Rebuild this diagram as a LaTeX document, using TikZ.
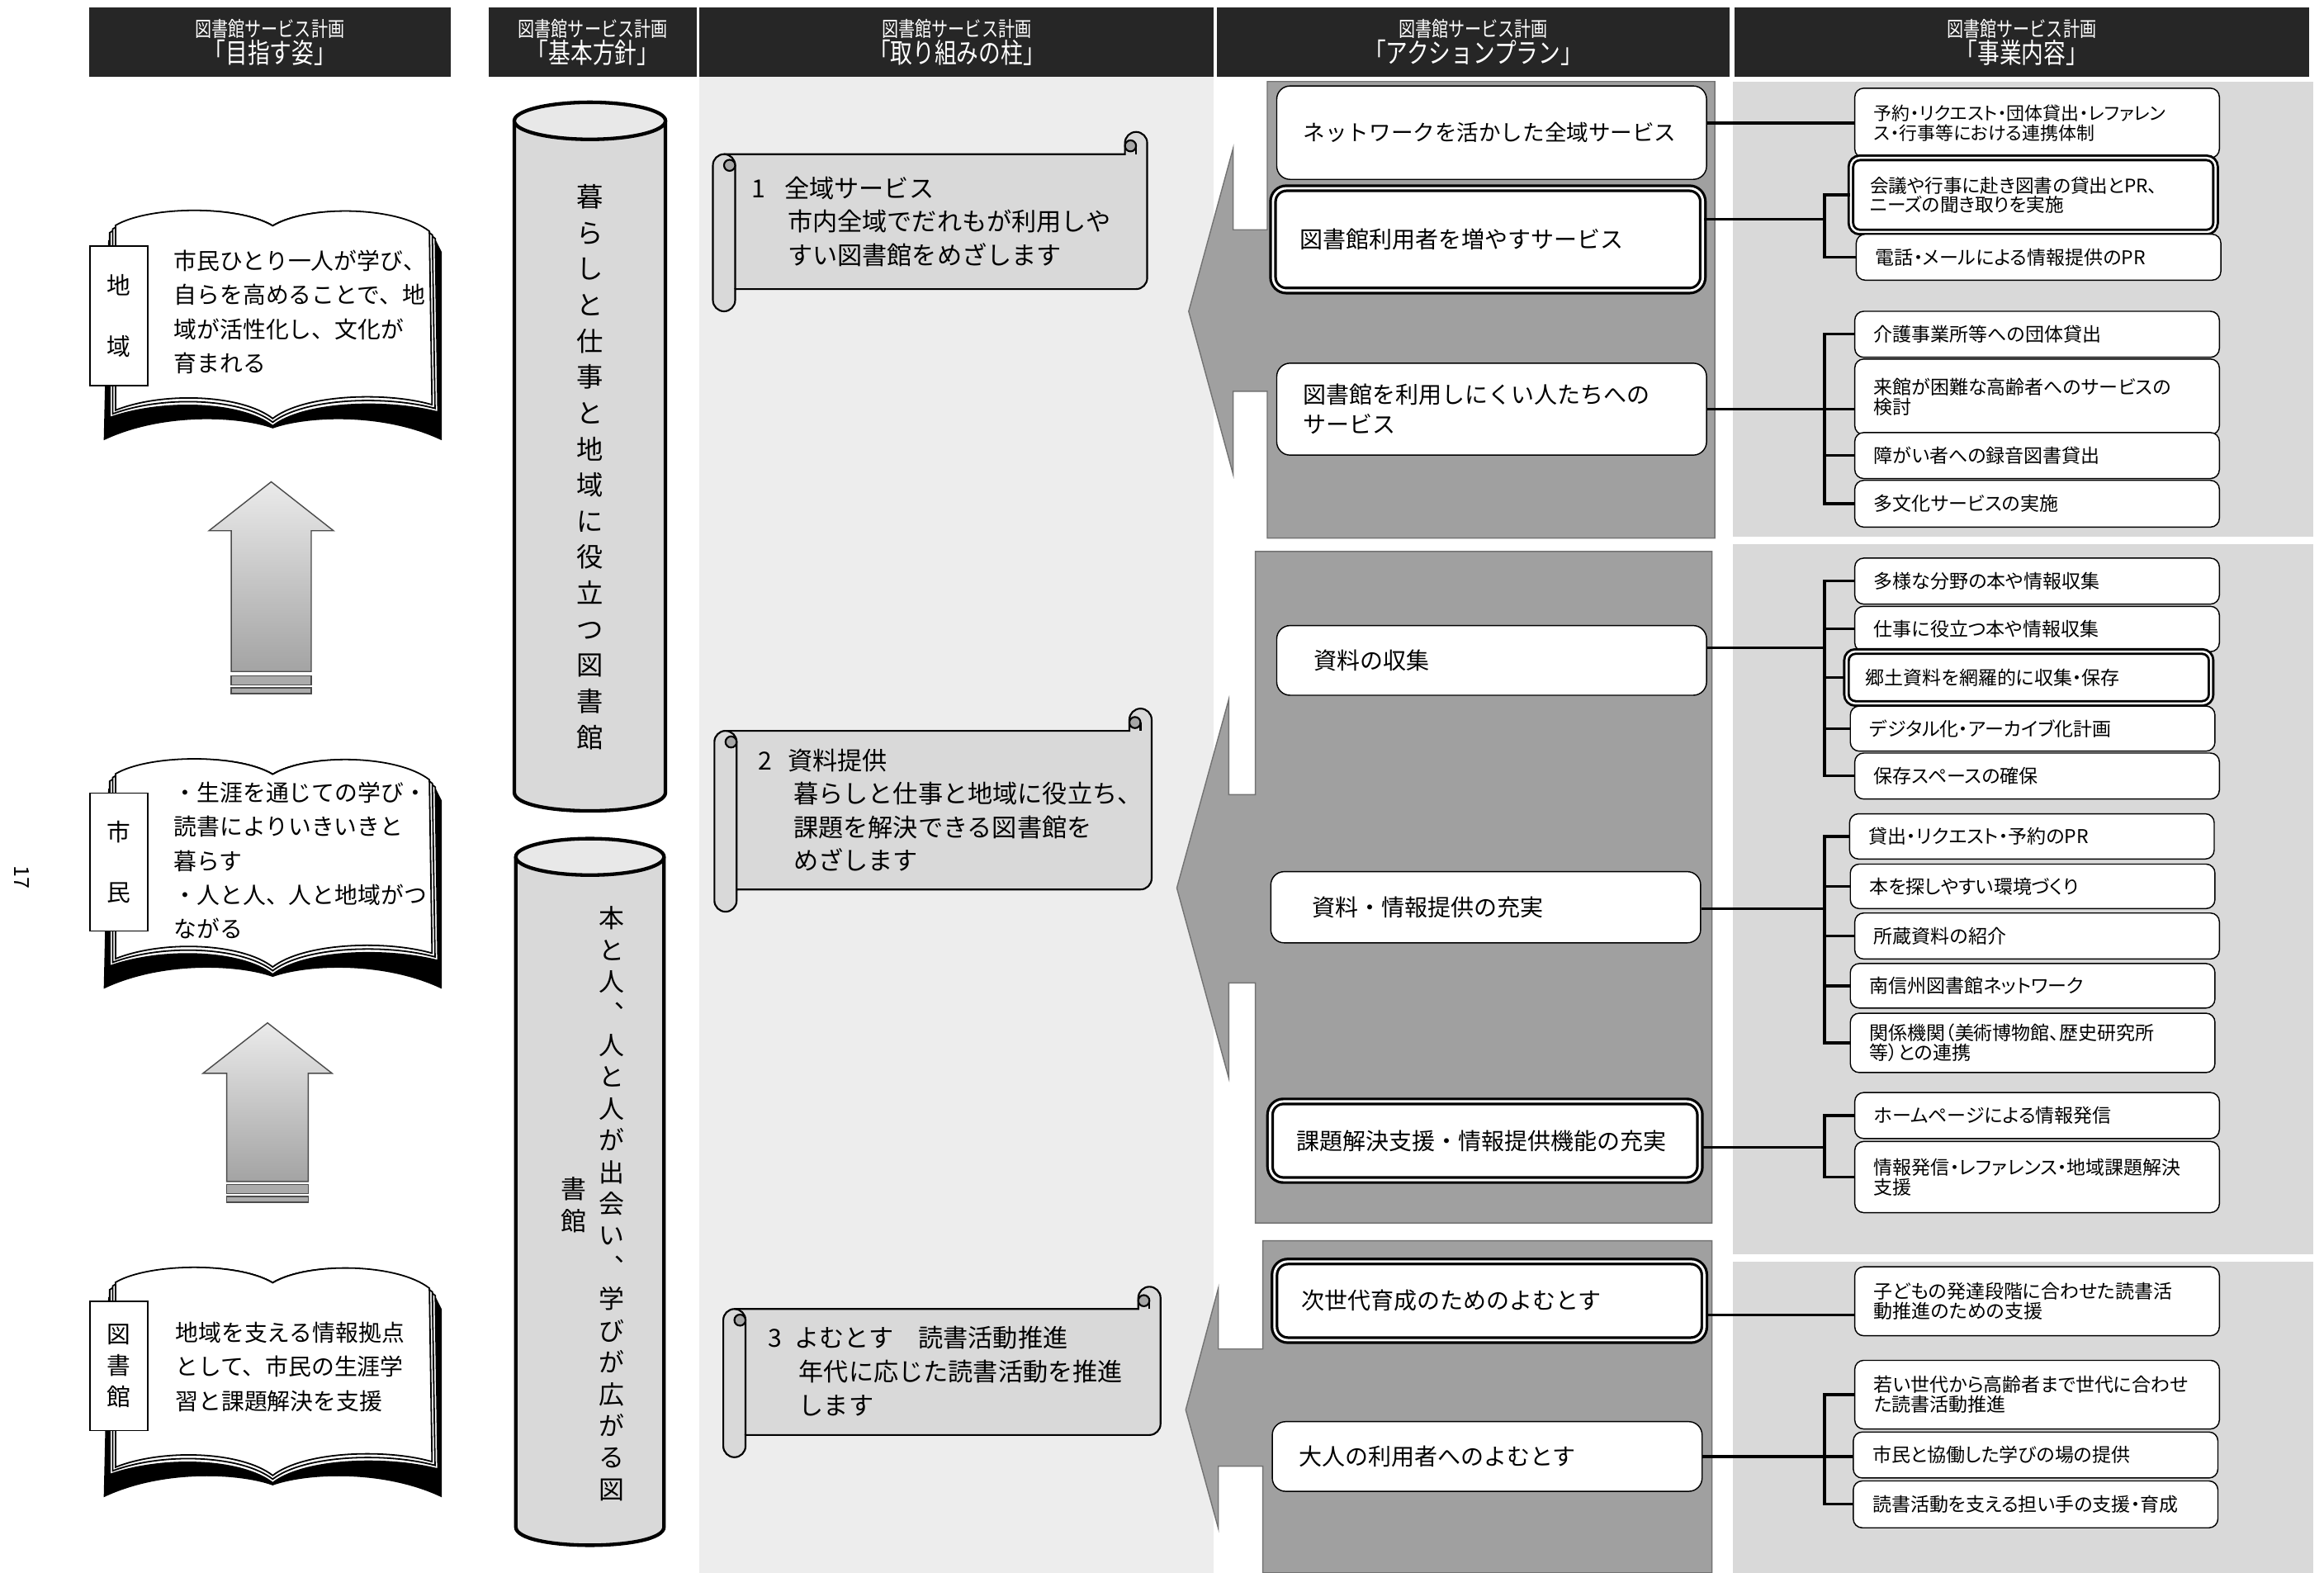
\documentclass[tikz,border=0pt]{standalone}
\usepackage{fontspec}
\setmainfont{Noto Sans CJK JP}
\newfontfamily\narrowfont[FakeStretch=0.8]{Noto Sans CJK JP}
\newfontfamily\propfont[RawFeature=+palt]{Noto Sans CJK JP}
\newcommand{\headfont}{\narrowfont\fontsize{9.3pt}{8.8pt}\selectfont\lineskiplimit=-10pt\relax}

\definecolor{headbar}{HTML}{262626}
\definecolor{pillarbg}{HTML}{EDEDED}
\definecolor{planpanel}{HTML}{A0A0A0}
\definecolor{itembg}{HTML}{D9D9D9}
\definecolor{scrollfill}{HTML}{D9D9D9}
\definecolor{curlfill}{HTML}{A6A6A6}
\definecolor{cylbody}{HTML}{D9D9D9}
\definecolor{cyltop}{HTML}{E8E8E8}

\begin{document}
\begin{tikzpicture}[x=0.5pt, y=-0.5pt,
    headbox/.style={fill=headbar, text=white, align=center, inner sep=0pt,
      minimum height=23.5pt, font=\headfont},
    panel/.style={fill=planpanel, draw=black!55, line width=0.4pt},
    cyl/.style={fill=cylbody, draw=black, line width=1.2pt},
    pillartxt/.style={align=center, inner sep=0pt},
    scrolltxt/.style={align=left, anchor=west, inner sep=0pt,
      font=\fontsize{8.4pt}{11.3pt}\selectfont},
    booktxt/.style={align=left, anchor=west, inner sep=0pt,
      font=\fontsize{7.75pt}{11.5pt}\selectfont},
    tabbox/.style={draw=black, fill=white, line width=0.5pt, minimum width=19.5pt,
      align=center, inner sep=0pt},
    act/.style={draw=black, fill=white, line width=0.4pt, rounded corners=4.5pt,
      anchor=west, align=left, inner xsep=9pt, inner ysep=0pt, text width=127pt,
      minimum height=#1, font=\fontsize{7.8pt}{10pt}\selectfont},
    keyact/.style={act=#1, line width=0.9pt, double=white, double distance=0.8pt},
    biz/.style={draw=black, fill=white, line width=0.4pt, rounded corners=3pt,
      anchor=west, align=left, inner xsep=6.5pt, inner ysep=0pt, text width=110pt,
      minimum height=#1, font=\propfont\fontsize{6.4pt}{6.6pt}\selectfont},
    keybiz/.style={biz=#1, line width=0.8pt, double=white, double distance=0.7pt},
    link/.style={draw=black, line width=0.9pt},
    uparrow/.style={top color=black!8, bottom color=black!36, draw=black!70, line width=0.4pt},
    upbar/.style={fill=black!33, draw=black!70, line width=0.4pt}]

  \useasboundingbox (0,0) rectangle (1568,1061);
  \fill[white] (0,0) rectangle (1568,1061);

  % column heads
  \node[headbox, minimum width=122pt] (h1) at (182,28.5)
    {{\fontsize{7pt}{8.8pt}\selectfont 図書館サービス計画}\\「目指す姿」};
  \node[headbox, minimum width=70pt] (h2) at (400,28.5)
    {{\fontsize{7pt}{8.8pt}\selectfont 図書館サービス計画}\\「基本方針」};
  \node[headbox, minimum width=173.5pt] (h3) at (645.5,28.5)
    {{\fontsize{7pt}{8.8pt}\selectfont 図書館サービス計画}\\「取り組みの柱」};
  \node[headbox, minimum width=173pt] (h4) at (994,28.5)
    {{\fontsize{7pt}{8.8pt}\selectfont 図書館サービス計画}\\「アクションプラン」};
  \node[headbox, minimum width=194pt] (h5) at (1364,28.5)
    {{\fontsize{7pt}{8.8pt}\selectfont 図書館サービス計画}\\「事業内容」};

  % backgrounds
  \fill[pillarbg] (472,52) rectangle (819,1061);
  \fill[itembg] (1169,55) rectangle (1561,362);
  \fill[itembg] (1169,367) rectangle (1561,846);
  \fill[itembg] (1169,851) rectangle (1561,1061);

  % open books
  \foreach \by in {140,510,853}{
    \begin{scope}[shift={(70,\by)}]
      \fill[black] (3,22) -- (0,157) .. controls (40,138) and (92,141) .. (114,149)
        .. controls (136,141) and (188,138) .. (228,157) -- (228,30) -- (224,22) -- cycle;
      \foreach \dx/\dy in {4/5,2/2.5,0/0}
        \draw[fill=white, line width=0.5pt] ({8-\dx},{12+\dy})
          .. controls (30,-1) and (90,-2) .. (114,12.3)
          .. controls (138,-2) and (198,-1) .. ({219.7+\dx},{16+\dy})
          -- ({221.5+\dx},{133+\dy})
          .. controls (190,{124+\dy}) and (135,{126+\dy}) .. (114,{142.3+\dy})
          .. controls (93,{126+\dy}) and (40,{124+\dy}) .. ({8-\dx},{136.7+\dy}) -- cycle;
    \end{scope}
  }

  \node[tabbox, minimum height=47pt, font=\fontsize{8pt}{20.5pt}\selectfont] (tab1) at (80,213) {地\\域};
  \node[tabbox, minimum height=46.5pt, font=\fontsize{8pt}{20.5pt}\selectfont] (tab2) at (80,581.5) {市\\民};
  \node[tabbox, minimum height=43.5pt, font=\fontsize{8pt}{10.5pt}\selectfont] (tab3) at (80,921.5) {図\\書\\館};

  \node[booktxt] (vision1) at (117,210.5)
    {市民ひとり一人が学び、\\自らを高めることで、地\\域が活性化し、文化が\\育まれる};
  \node[booktxt] (vision2) at (117,580.5)
    {・生涯を通じての学び・\\読書によりいきいきと\\暮らす\\・人と人、人と地域がつ\\ながる};
  \node[booktxt] (vision3) at (118,922)
    {地域を支える情報拠点\\として、市民の生涯学\\習と課題解決を支援};

  % arrows between the books
  \draw[uparrow] (183,325) -- (225,358) -- (210,358) -- (210,453) -- (156,453)
    -- (156,358) -- (141,358) -- cycle;
  \draw[upbar] (156,456) rectangle (210,462);
  \draw[upbar] (156,464) rectangle (210,468);
  \draw[uparrow] (180.5,690) -- (224,724) -- (208,724) -- (208,797) -- (153,797)
    -- (153,724) -- (137,724) -- cycle;
  \draw[upbar] (153,799) rectangle (208,805);
  \draw[upbar] (153,807) rectangle (208,811);

  % pillars
  \draw[cyl] (347,81.5) -- (347,534.5) .. controls (347,551.2) and (449,551.2) .. (449,534.5) -- (449,81.5);
  \draw[cyl, fill=cyltop] (398,81.5) ellipse [x radius=51, y radius=12.5];
  \draw[cyl] (348,578) -- (348,1030) .. controls (348,1046.5) and (448,1046.5) .. (448,1030) -- (448,578);
  \draw[cyl, fill=cyltop] (398,578) ellipse [x radius=50, y radius=12.3];

  \node[pillartxt, font=\fontsize{9pt}{12.15pt}\selectfont] (basis1) at (398,315)
    {暮\\ら\\し\\と\\仕\\事\\と\\地\\域\\に\\役\\立\\つ\\図\\書\\館};
  \node[pillartxt, font=\fontsize{8.6pt}{10.7pt}\selectfont] (basis2) at (412.5,812)
    {本\\と\\人\\︑\\人\\と\\人\\が\\出\\会\\い\\︑\\学\\び\\が\\広\\が\\る\\図};
  \node[pillartxt, font=\fontsize{8.6pt}{10.85pt}\selectfont] (basis3) at (387,813) {書\\館};

  % scrolls
  \foreach \sx/\sy/\sw/\sh in {481/89/293/121, 482/478/295/137, 488/868/295/115}{
    \begin{scope}[shift={(\sx,\sy)}]
      \draw[fill=scrollfill, line width=0.6pt]
        (0,22.5) arc[start angle=180, end angle=90, radius=3.75pt]
        -- ({\sw-15},15) -- ({\sw-15},7.5)
        arc[start angle=180, end angle=0, radius=3.75pt]
        -- (\sw,{\sh-22.5})
        arc[start angle=0, end angle=-90, radius=3.75pt]
        -- (15,{\sh-15}) -- (15,{\sh-7.5})
        arc[start angle=0, end angle=-180, radius=3.75pt]
        -- cycle;
      \draw[line width=0.6pt] (7.5,15) arc[start angle=90, end angle=0, radius=3.75pt] -- (15,{\sh-15});
      \draw[fill=curlfill, line width=0.6pt] (11.25,22.5) circle[radius=1.875pt];
      \draw[fill=curlfill, line width=0.6pt] ({\sw-11.25},9.4) circle[radius=1.875pt];
      \draw[line width=0.6pt] ({\sw-7.5},9.4) -- ({\sw-7.5},15);
    \end{scope}
  }

  \node[scrolltxt] (pillar1) at (507,149.5)
    {1\hspace{0.75em}全域サービス\\\hspace*{1.43em}市内全域でだれもが利用しや\\\hspace*{1.43em}すい図書館をめざします};
  \node[scrolltxt] (pillar2) at (511,546.5)
    {2\hspace{0.64em}資料提供\\\hspace*{1.43em}暮らしと仕事と地域に役立ち、\\\hspace*{1.43em}課題を解決できる図書館を\\\hspace*{1.43em}めざします};
  \node[scrolltxt] (pillar3) at (518,925)
    {3\hspace{0.5em}よむとす　読書活動推進\\\hspace*{1.23em}年代に応じた読書活動を推進\\\hspace*{1.23em}します};

  % action plan panels
  \draw[panel] (855,55) -- (1157,55) -- (1157,363) -- (855,363) -- (855,264) -- (832,264)
    -- (832,320) -- (802,210) -- (832,100) -- (832,155) -- (855,155) -- cycle;
  \draw[panel] (847,372) -- (1155,372) -- (1155,825) -- (847,825) -- (847,663) -- (829,663)
    -- (829,727) -- (794,599) -- (829,472) -- (829,536) -- (847,536) -- cycle;
  \draw[panel] (852,837) -- (1155,837) -- (1155,1061) -- (852,1061) -- (852,989) -- (822,989)
    -- (822,1031) -- (800,951) -- (822,869) -- (822,910) -- (852,910) -- cycle;

  \node[act=31.5pt, font=\fontsize{7.4pt}{10pt}\selectfont] (act1) at (861,89.5) {ネットワークを活かした全域サービス};
  \node[keyact=34.5pt] (act2) at (858,161.5) {図書館利用者を増やすサービス};
  \node[act=31pt] (act3) at (861,276) {図書館を利用しにくい人たちへの\\サービス};
  \node[act=23.5pt] (act4) at (861,445.5) {\hspace*{3.5pt}資料の収集};
  \node[act=24pt] (act5) at (857,612) {\hspace*{5pt}資料・情報提供の充実};
  \node[keyact=26.5pt] (act6) at (856,769.5) {課題解決支援・情報提供機能の充実};
  \node[keyact=26.5pt] (act7) at (859,877.5) {次世代育成のためのよむとす};
  \node[act=23.5pt] (act8) at (858,982.5) {大人の利用者へのよむとす};

  % business items
  \node[biz=23.5pt, font=\propfont\fontsize{6.1pt}{6.5pt}\selectfont] (biz1) at (1251,83)
    {予約・リクエスト・団体貸出・レファレン\\ス・行事等における連携体制};
  \node[keybiz=25pt, font=\propfont\fontsize{6.3pt}{6.5pt}\selectfont] (biz2) at (1248,131.5)
    {会議や行事に赴き図書の貸出とPR、\\ニーズの聞き取りを実施};
  \node[biz=15.5pt] (biz3) at (1252,173.5) {電話・メールによる情報提供のPR};
  \node[biz=15.5pt] (biz4) at (1251,225.5) {介護事業所等への団体貸出};
  \node[biz=25.5pt] (biz5) at (1251,267.7) {来館が困難な高齢者へのサービスの\\検討};
  \node[biz=15.5pt] (biz6) at (1251,307.3) {障がい者への録音図書貸出};
  \node[biz=15.75pt] (biz7) at (1251,339.8) {多文化サービスの実施};

  \node[biz=15.5pt] (biz8) at (1251,392) {多様な分野の本や情報収集};
  \node[biz=15.3pt] (biz9) at (1251,424.3) {仕事に役立つ本や情報収集};
  \node[keybiz=17.5pt] (biz10) at (1245,457) {郷土資料を網羅的に収集・保存};
  \node[biz=15.2pt] (biz11) at (1248,491.5) {デジタル化・アーカイブ化計画};
  \node[biz=15.5pt] (biz12) at (1251,523.5) {保存スペースの確保};
  \node[biz=15.25pt] (biz13) at (1247.5,564.2) {貸出・リクエスト・予約のPR};
  \node[biz=15pt] (biz14) at (1248,597.9) {本を探しやすい環境づくり};
  \node[biz=15.5pt] (biz15) at (1251,631.4) {所蔵資料の紹介};
  \node[biz=15pt] (biz16) at (1248,665) {南信州図書館ネットワーク};
  \node[biz=20pt] (biz17) at (1248,703.5) {関係機関（美術博物館、歴史研究所\\等）との連携};
  \node[biz=15.5pt] (biz18) at (1251,752.5) {ホームページによる情報発信};
  \node[biz=24pt] (biz19) at (1251,794) {情報発信・レファレンス・地域課題解決\\支援};

  \node[biz=23.25pt] (biz20) at (1251,877.8) {子どもの発達段階に合わせた読書活\\動推進のための支援};
  \node[biz=23.15pt] (biz21) at (1251,940.8) {若い世代から高齢者まで世代に合わせ\\た読書活動推進};
  \node[biz=15.5pt] (biz22) at (1250,981.5) {市民と協働した学びの場の提供};
  \node[biz=15.8pt] (biz23) at (1250,1014.8) {読書活動を支える担い手の支援・育成};

  % links from plans to items
  \coordinate (k2) at (1231,148);
  \coordinate (k3) at (1231,276);
  \coordinate (k4) at (1231,437);
  \coordinate (k5) at (1231,613);
  \coordinate (k6) at (1231,774);
  \coordinate (k7) at (1231,887);
  \coordinate (k8) at (1231,982.5);

  \draw[link] (act1.east |- biz1.west) -- (biz1.west);

  \draw[link] (act2.east |- k2) -- (k2);
  \draw[link] (biz2.west) -| (k2) |- (biz3.west);

  \draw[link] (act3.east |- k3) -- (biz5.west |- k3);
  \draw[link] (biz4.west) -| (k3) |- (biz7.west);
  \draw[link] (biz6.west) -- (biz6.west -| k3);

  \draw[link] (act4.east |- k4) -- (k4);
  \draw[link] (biz8.west) -| (k4) |- (biz12.west);
  \foreach \b in {biz9,biz10,biz11}
    \draw[link] (\b.west) -- (\b.west -| k4);

  \draw[link] (act5.east |- k5) -- (k5);
  \draw[link] (biz13.west) -| (k5) |- (biz17.west);
  \foreach \b in {biz14,biz15,biz16}
    \draw[link] (\b.west) -- (\b.west -| k5);

  \draw[link] (act6.east |- k6) -- (k6);
  \draw[link] (biz18.west) -| (k6) |- (biz19.west);

  \draw[link] (act7.east |- k7) -- (biz20.west |- k7);

  \draw[link] (act8.east |- k8) -- (biz22.west |- k8);
  \draw[link] (biz21.west) -| (k8) |- (biz23.west);

  % page number
  \node[rotate=-90, inner sep=0pt, font=\fontsize{7pt}{7pt}\selectfont] (pagenum) at (15,592) {17};
\end{tikzpicture}
\end{document}
